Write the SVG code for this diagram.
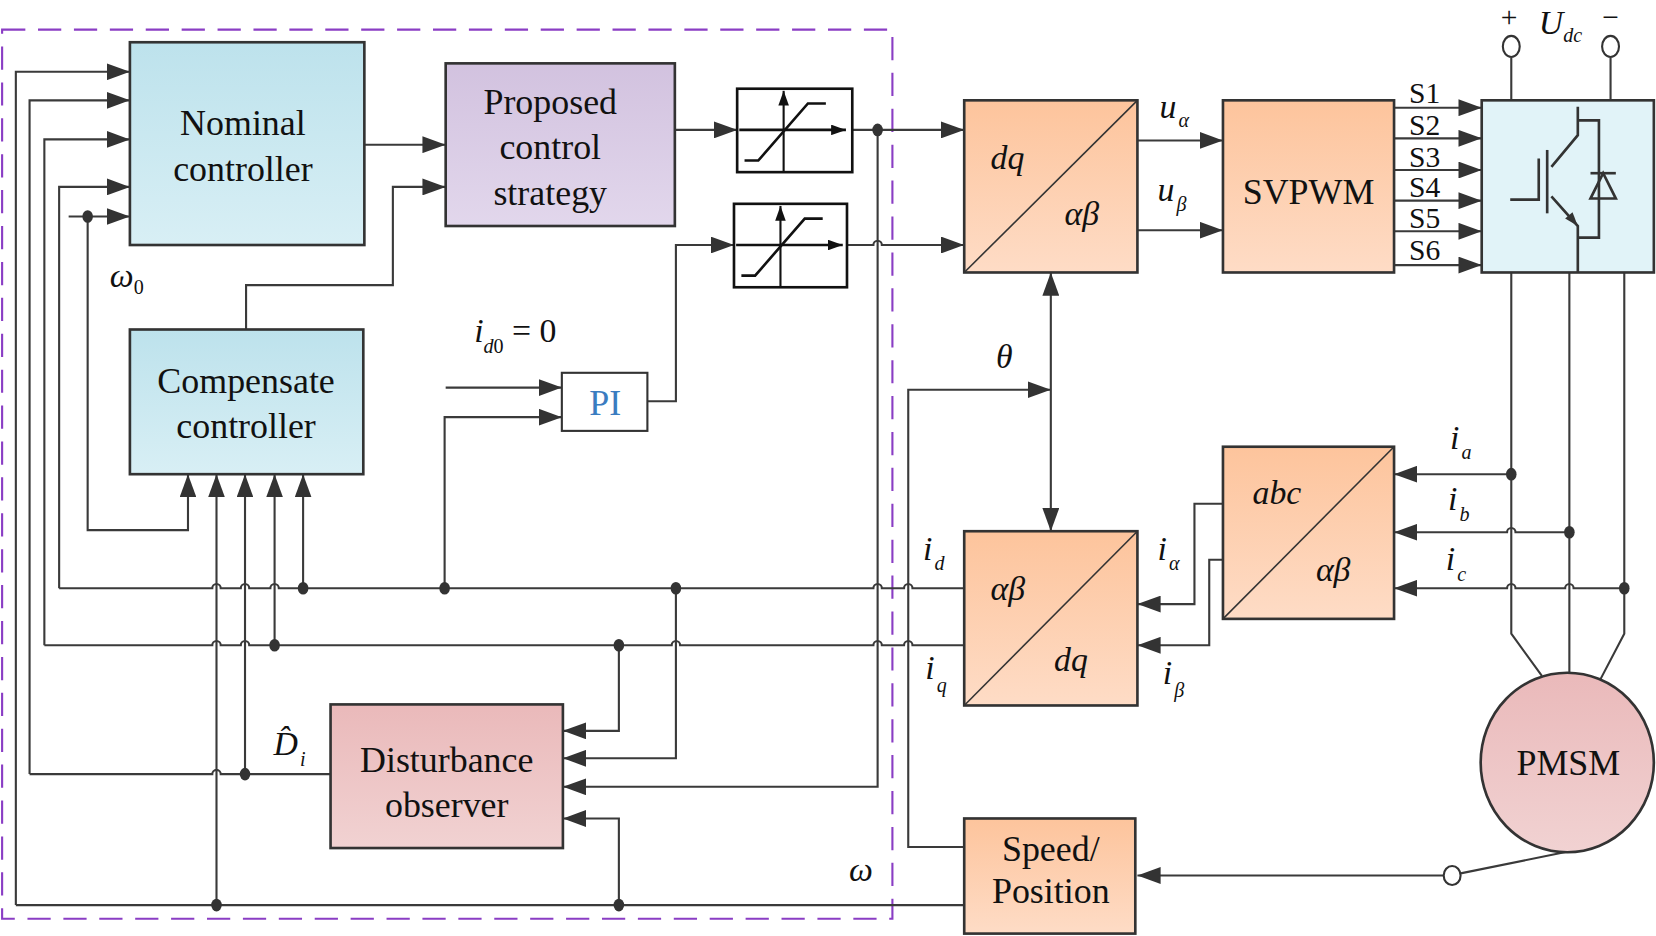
<svg xmlns="http://www.w3.org/2000/svg" width="1656" height="936" viewBox="0 0 1656 936">
<defs>
<linearGradient id="gO" x1="0" y1="0" x2="0" y2="1"><stop offset="0" stop-color="#fdc49c"/><stop offset="1" stop-color="#fedcc6"/></linearGradient>
<linearGradient id="gB" x1="0" y1="0" x2="0" y2="1"><stop offset="0" stop-color="#bde2ec"/><stop offset="1" stop-color="#d8eff5"/></linearGradient>
<linearGradient id="gP" x1="0" y1="0" x2="0" y2="1"><stop offset="0" stop-color="#d2c2df"/><stop offset="1" stop-color="#e2d7ec"/></linearGradient>
<linearGradient id="gR" x1="0" y1="0" x2="0" y2="1"><stop offset="0" stop-color="#eab9ba"/><stop offset="1" stop-color="#f1d2d2"/></linearGradient>
<marker id="a" viewBox="0 0 22 16" refX="22" refY="8" markerWidth="22" markerHeight="16" orient="auto-start-reverse" markerUnits="userSpaceOnUse"><path d="M0,0 L22,8 L0,16 z" fill="#333"/></marker>
<marker id="s" viewBox="0 0 14 10" refX="14" refY="5" markerWidth="14" markerHeight="10" orient="auto" markerUnits="userSpaceOnUse"><path d="M0,0 L14,5 L0,10 z" fill="#111"/></marker>
</defs>
<style>
.b{stroke:#333;stroke-width:2.5}
.l{fill:none;stroke:#3a3a3a;stroke-width:2}
.ar{marker-end:url(#a)}
.t{font-family:"Liberation Serif",serif;font-size:34px;fill:#111;text-anchor:middle}
.m{font-family:"Liberation Serif",serif;font-style:italic;font-size:32px;fill:#111}
.sb{font-size:19px}
.d{fill:#333}
</style>
<g transform="scale(1.0561)">
<rect x="2" y="28" width="843" height="842" fill="none" stroke="#8a3dc4" stroke-width="2" stroke-dasharray="22,12"/>

<g id="connectors">
<path class="l ar" d="M15,857 V68 H123"/>
<path class="l ar" d="M28,733 V95 H123"/>
<path class="l ar" d="M42,611 V132 H123"/>
<path class="l ar" d="M56,557 V177 H123"/>
<path class="l ar" d="M65,205 H123"/>
<path class="l ar" d="M83,205 V502 H178 V449"/>
<path class="l ar" d="M345,137 H422"/>
<path class="l ar" d="M233,312 V270 H372 V177 H422"/>
<path class="l ar" d="M639,123 H698"/>
<path class="l ar" d="M807,123 H913"/>
<path class="l ar" d="M831,123 V745 H533"/>
<path class="l ar" d="M613,380 H640 V232 H695"/>
<path class="l ar" d="M802,232 H827 a4,4 0 0 1 8,0 H913"/>
<path class="l ar" d="M422,367 H532"/>
<path class="l ar" d="M421,557 V395 H532"/>
<path class="l ar" d="M1077,133 H1158"/>
<path class="l ar" d="M1077,218 H1158"/>
<path class="l ar" d="M1320,102 H1403"/>
<path class="l ar" d="M1320,131 H1403"/>
<path class="l ar" d="M1320,161 H1403"/>
<path class="l ar" d="M1320,190 H1403"/>
<path class="l ar" d="M1320,219 H1403"/>
<path class="l ar" d="M1320,251 H1403"/>
<path class="l" d="M1431,55 V95 M1525,55 V95"/>
<path class="l" d="M1431,258 V600 L1460,640 M1486,258 V638 M1538,258 V600 L1515,644"/>
<path class="l ar" d="M1431,449 H1320"/>
<path class="l ar" d="M1486,504 H1435 a4,4 0 0 0 -8,0 H1320"/>
<path class="l ar" d="M1538,557 H1490 a4,4 0 0 0 -8,0 H1435 a4,4 0 0 0 -8,0 H1320"/>
<path class="l ar" d="M1158,477 H1131 V572 H1077"/>
<path class="l ar" d="M1158,530 H1145 V611 H1077"/>
<path class="l ar" d="M913,802 H860 V369 H995"/>
<path class="l" d="M995,258 V503" style="marker-start:url(#a);marker-end:url(#a)"/>
<path class="l ar" d="M1367,829 H1077"/>
<path class="l" d="M1383,827 L1486,806"/>
<path class="l" d="M56,557 H201 a4,4 0 0 1 8,0 H228 a4,4 0 0 1 8,0 H256 a4,4 0 0 1 8,0 H827 a4,4 0 0 1 8,0 H856 a4,4 0 0 1 8,0 H913"/>
<path class="l" d="M42,611 H201 a4,4 0 0 1 8,0 H228 a4,4 0 0 1 8,0 H636 a4,4 0 0 1 8,0 H827 a4,4 0 0 1 8,0 H856 a4,4 0 0 1 8,0 H913"/>
<path class="l" d="M28,733 H201 a4,4 0 0 1 8,0 H313"/>
<path class="l" d="M913,857 H15"/>
<path class="l ar" d="M205,857 V449"/>
<path class="l ar" d="M232,733 V449"/>
<path class="l ar" d="M260,611 V449"/>
<path class="l ar" d="M287,557 V449"/>
<path class="l ar" d="M586,611 V692 H533"/>
<path class="l ar" d="M640,557 V718 H533"/>
<path class="l ar" d="M586,857 V775 H533"/>
<g class="d">
<ellipse cx="83" cy="205" rx="5" ry="6"/><ellipse cx="831" cy="123" rx="5" ry="6"/>
<ellipse cx="287" cy="557" rx="5" ry="6"/><ellipse cx="421" cy="557" rx="5" ry="6"/><ellipse cx="640" cy="557" rx="5" ry="6"/>
<ellipse cx="260" cy="611" rx="5" ry="6"/><ellipse cx="586" cy="611" rx="5" ry="6"/>
<ellipse cx="232" cy="733" rx="5" ry="6"/>
<ellipse cx="205" cy="857" rx="5" ry="6"/><ellipse cx="586" cy="857" rx="5" ry="6"/>
<ellipse cx="1431" cy="449" rx="5" ry="6"/><ellipse cx="1486" cy="504" rx="5" ry="6"/><ellipse cx="1538" cy="557" rx="5" ry="6"/>
</g>
</g>

<g id="nominal"><rect class="b" x="123" y="40" width="222" height="192" fill="url(#gB)"/>
<text class="t" x="230" y="128">Nominal</text><text class="t" x="230" y="171">controller</text></g>
<g id="proposed"><rect class="b" x="422" y="60" width="217" height="154" fill="url(#gP)"/>
<text class="t" x="521" y="108">Proposed</text><text class="t" x="521" y="151">control</text><text class="t" x="521" y="194">strategy</text></g>
<g id="sat1"><rect x="698" y="84" width="109" height="79" fill="#fff" stroke="#111" stroke-width="2.5"/>
<path d="M742,163 V86" fill="none" stroke="#111" stroke-width="2" marker-end="url(#s)"/>
<path d="M700,123 H801" fill="none" stroke="#111" stroke-width="2.5" marker-end="url(#s)"/>
<path d="M705,152 H718 L765,98 H782" fill="none" stroke="#111" stroke-width="2.5"/></g>
<g id="sat2"><rect x="695" y="193" width="107" height="79" fill="#fff" stroke="#111" stroke-width="2.5"/>
<path d="M739,272 V195" fill="none" stroke="#111" stroke-width="2" marker-end="url(#s)"/>
<path d="M697,232 H798" fill="none" stroke="#111" stroke-width="2.5" marker-end="url(#s)"/>
<path d="M702,261 H715 L762,207 H779" fill="none" stroke="#111" stroke-width="2.5"/></g>
<g id="compensate"><rect class="b" x="123" y="312" width="221" height="137" fill="url(#gB)"/>
<text class="t" x="233" y="372">Compensate</text><text class="t" x="233" y="415">controller</text></g>
<g id="pi"><rect x="532" y="353" width="81" height="55" fill="#fff" stroke="#333" stroke-width="2"/>
<text class="t" x="573" y="393" style="fill:#3a7cc0">PI</text></g>
<g id="disturbance"><rect class="b" x="313" y="667" width="220" height="136" fill="url(#gR)"/>
<text class="t" x="423" y="731">Disturbance</text><text class="t" x="423" y="774">observer</text></g>
<g id="dqab"><rect class="b" x="913" y="95" width="164" height="163" fill="url(#gO)"/>
<path d="M913,258 L1077,95" stroke="#333" stroke-width="1.5"/>
<text class="m" x="938" y="160">dq</text><text class="m" x="1008" y="213">αβ</text></g>
<g id="svpwm"><rect class="b" x="1158" y="95" width="162" height="163" fill="url(#gO)"/>
<text class="t" x="1239" y="193">SVPWM</text></g>
<g id="inverter"><rect class="b" x="1403" y="95" width="163" height="163" fill="#e1f3f8"/>
<g fill="none" stroke="#333" stroke-width="2.5">
<path d="M1494,101 V128 L1469,158"/><path d="M1465,142 V202"/><path d="M1457,150 V189 H1430"/>
<path d="M1469,186 L1494,214 V258"/><path d="M1494,114 H1514 V225 H1494"/><path d="M1506,164 H1530"/>
</g>
<path d="M1518,164 L1506,188 H1530 z" fill="none" stroke="#333" stroke-width="2.5"/>
<path d="M1494,214 L1482,207 L1489,201 z" fill="#333"/></g>
<g id="abcab"><rect class="b" x="1158" y="423" width="162" height="163" fill="url(#gO)"/>
<path d="M1158,586 L1320,423" stroke="#333" stroke-width="1.5"/>
<text class="m" x="1186" y="477">abc</text><text class="m" x="1246" y="550">αβ</text></g>
<g id="abdq"><rect class="b" x="913" y="503" width="164" height="165" fill="url(#gO)"/>
<path d="M913,668 L1077,503" stroke="#333" stroke-width="1.5"/>
<text class="m" x="938" y="568">αβ</text><text class="m" x="998" y="635">dq</text></g>
<g id="speed"><rect class="b" x="913" y="775" width="162" height="109" fill="url(#gO)"/>
<text class="t" x="995" y="815">Speed/</text><text class="t" x="995" y="855">Position</text></g>
<g id="pmsm"><ellipse cx="1484" cy="722" rx="82" ry="85" fill="url(#gR)" stroke="#333" stroke-width="2.5"/>
<text class="t" x="1485" y="734">PMSM</text></g>
<g id="terminals" fill="#fff" stroke="#333" stroke-width="2">
<ellipse cx="1431" cy="44" rx="8" ry="10"/><ellipse cx="1525" cy="44" rx="8" ry="10"/><ellipse cx="1375" cy="829" rx="8" ry="9"/></g>

<g id="labels">
<text class="t" x="1429" y="26" style="font-size:28px">+</text>
<text class="t" x="1525" y="26" style="font-size:28px">−</text>
<text class="m" x="1457" y="32" style="font-size:32px">U<tspan class="sb" dy="8">dc</tspan></text>
<text class="t" x="1349" y="98" style="font-size:28px">S1</text>
<text class="t" x="1349" y="128" style="font-size:28px">S2</text>
<text class="t" x="1349" y="158" style="font-size:28px">S3</text>
<text class="t" x="1349" y="187" style="font-size:28px">S4</text>
<text class="t" x="1349" y="216" style="font-size:28px">S5</text>
<text class="t" x="1349" y="246" style="font-size:28px">S6</text>
<text class="m" x="1098" y="112">u<tspan class="sb" dx="2" dy="8">α</tspan></text>
<text class="m" x="1096" y="190">u<tspan class="sb" dx="2" dy="10">β</tspan></text>
<text class="m" x="104" y="272">ω<tspan class="sb" style="font-style:normal" dy="6">0</tspan></text>
<text class="m" x="449" y="324">i<tspan class="sb" dy="10">d</tspan><tspan class="sb" style="font-style:normal">0</tspan><tspan style="font-style:normal" dy="-10"> = 0</tspan></text>
<text class="m" x="943" y="348">θ</text>
<text class="m" x="874" y="530">i<tspan class="sb" dx="2" dy="10">d</tspan></text>
<text class="m" x="876" y="643">i<tspan class="sb" dx="2" dy="12">q</tspan></text>
<text class="m" x="1096" y="530">i<tspan class="sb" dx="2" dy="10">α</tspan></text>
<text class="m" x="1101" y="648">i<tspan class="sb" dx="2" dy="12">β</tspan></text>
<text class="m" x="1373" y="425">i<tspan class="sb" dx="2" dy="10">a</tspan></text>
<text class="m" x="1371" y="483">i<tspan class="sb" dx="2" dy="10">b</tspan></text>
<text class="m" x="1369" y="540">i<tspan class="sb" dx="2" dy="10">c</tspan></text>
<text class="m" x="259" y="715">D&#x302;<tspan class="sb" dx="2" dy="10">i</tspan></text>
<text class="m" x="804" y="834">ω</text>
</g>
</g>
</svg>
